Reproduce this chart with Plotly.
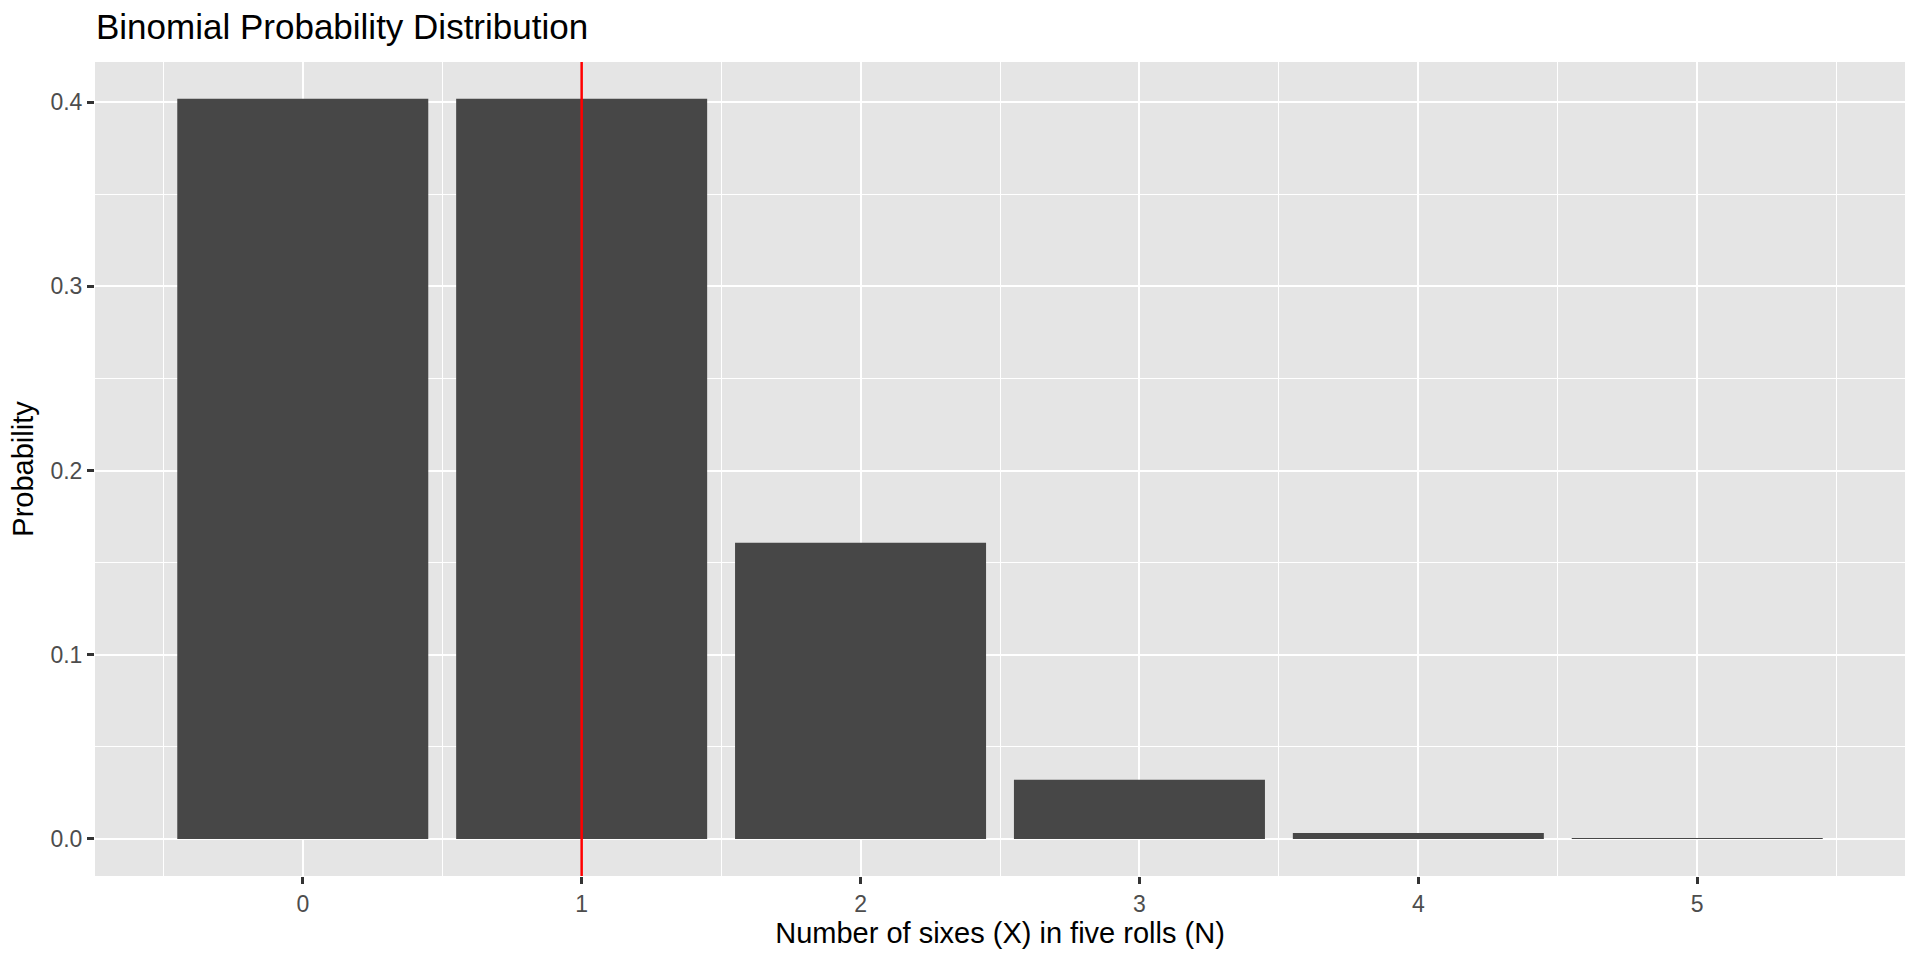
import plotly.graph_objects as go

sixes = [0, 1, 2, 3, 4, 5]
probability = [0.401878, 0.401878, 0.160751, 0.032150, 0.003215, 0.000129]
marker_x = 1
y_ticks = [0.0, 0.1, 0.2, 0.3, 0.4]
y_tick_labels = ["0.0", "0.1", "0.2", "0.3", "0.4"]
x_minor = [-0.5, 0.5, 1.5, 2.5, 3.5, 4.5, 5.5]
y_minor = [0.05, 0.15, 0.25, 0.35]

FONT = "Liberation Sans, Arial, Helvetica"

fig = go.Figure()
fig.add_trace(go.Bar(x=sixes, y=probability, width=0.9,
                     marker=dict(color="#474747", line=dict(width=0)),
                     showlegend=False))
fig.add_shape(type="line", x0=marker_x, x1=marker_x, xref="x", y0=0, y1=1, yref="paper",
              line=dict(color="#FF0000", width=2.5))

axis_common = dict(showline=False, zeroline=False, gridcolor="#FFFFFF", gridwidth=2,
                   ticks="outside", ticklen=7, tickwidth=2.5, tickcolor="#333333",
                   tickfont=dict(family=FONT, size=23, color="#4D4D4D"))

fig.update_layout(
    width=1920, height=960,
    paper_bgcolor="#FFFFFF", plot_bgcolor="#E5E5E5",
    margin=dict(l=95, r=15, t=62, b=84),
    title=dict(text="Binomial Probability Distribution", x=96/1920, xanchor="left",
               y=1-27/960, yanchor="middle",
               font=dict(family=FONT, size=35, color="#000000")),
    xaxis=dict(axis_common, range=[-0.745, 5.745], tickvals=sixes, ticktext=[str(v) for v in sixes],
               minor=dict(showgrid=True, gridcolor="#FFFFFF", gridwidth=1, tickvals=x_minor, ticks=""),
               title=dict(text="Number of sixes (X) in five rolls (N)", standoff=3,
                          font=dict(family=FONT, size=29, color="#000000"))),
    yaxis=dict(axis_common, range=[-0.0201, 0.4218], tickvals=y_ticks, ticktext=y_tick_labels,
               minor=dict(showgrid=True, gridcolor="#FFFFFF", gridwidth=1, tickvals=y_minor, ticks=""),
               title=dict(text="Probability", standoff=8,
                          font=dict(family=FONT, size=29, color="#000000"))),
)

fig.write_html("out.html",
               config={"displayModeBar": False},
               post_script="document.body.style.margin='0';document.body.style.overflow='hidden';")
